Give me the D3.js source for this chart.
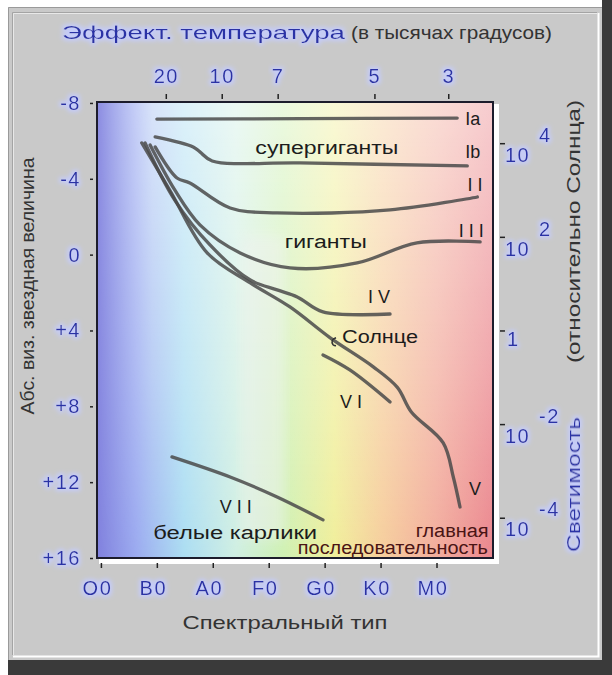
<!DOCTYPE html>
<html>
<head>
<meta charset="utf-8">
<script src="https://cdn.jsdelivr.net/npm/d3@7"></script>
<style>
  body { margin: 0; background: #fff; }
  svg text { font-family: "Liberation Sans", Arial, sans-serif; }
</style>
</head>
<body>
<svg id="hr" width="612" height="675">
  <defs></defs>
  <g id="frame"></g>
  <g id="plot"></g>
  <g id="axes"></g>
  <g id="titles"></g>
</svg>
<script>
// --- data ---
const spectralTypes = ['O0', 'B0', 'A0', 'F0', 'G0', 'K0', 'M0'];
const magTicks = [-8, -4, 0, 4, 8, 12, 16];
const tempTicks = [20, 10, 7, 5, 3];
// where each temperature tick sits on the spectral-type axis
const tempAt = [1.16, 2.16, 3.16, 4.89, 6.21];
const lumExp = [4, 2, 0, -2, -4];

// luminosity classes: [spectral position, abs. magnitude]
const classIa = [[1.0, -7.15], [3.6, -7.17], [6.37, -7.2]];
const classIb = [[0.97, -6.21], [1.65, -5.68], [1.77, -5.42], [1.99, -4.94], [3.56, -4.84], [6.55, -4.68]];
const classII = [[0.97, -5.68], [1.36, -4.04], [1.59, -3.78], [2.31, -2.46], [3.15, -2.2], [5.17, -2.36], [6.73, -3.04]];
const classIII = [[0.88, -5.78], [1.32, -3.41], [1.77, -1.57], [2.49, -0.09], [3.38, 0.7], [4.58, 0.44], [5.65, -0.62], [6.78, -0.67]];
const classIV = [[0.79, -5.89], [1.32, -2.88], [1.95, -0.51], [2.67, 1.34], [3.15, 1.86], [3.51, 2.23], [3.97, 3.02], [5.17, 3.13]];
const classV = [[0.73, -5.89], [1.23, -3.41], [1.9, -0.09], [2.67, 1.49], [3.38, 2.76], [4.1, 4.39], [4.87, 5.92], [5.3, 7.0], [5.55, 8.3], [6.12, 9.93], [6.3, 11.73], [6.42, 13.31]];
const classVI = [[3.97, 5.29], [4.45, 6.08], [5.17, 7.77]];
const classVII = [[1.27, 10.67], [2.31, 11.73], [3.15, 12.78], [3.97, 13.99]];
const sun = [4.15, 4.65];

const curves = [classIa, classIb, classII, classIII, classIV, classV, classVI, classVII];

// text in the plot: [text, spectral position, magnitude]
const classNames = [['Ia', 6.65, -7.16], ['Ib', 6.65, -5.42], ['I I', 6.69, -3.68], ['I I I', 6.62, -1.25],
  ['I V', 4.97, 2.23], ['V', 6.69, 12.36], ['V I', 4.47, 7.77], ['V I I', 2.41, 13.26]];
const regionNames = [['супергиганты', 4.04, -5.63], ['гиганты', 4.02, -0.67], ['Солнце', 4.99, 4.34],
  ['белые карлики', 2.40, 14.64]];
const mainSeqName = [['главная', 6.28, 14.53], ['последовательность', 5.22, 15.47]];

// --- setup ---
const svg = d3.select('svg#hr');
const size = { width: +svg.attr('width'), height: +svg.attr('height') };
const pad = { top: 102, right: 119, bottom: 117, left: 97 };
const width = size.width - pad.left - pad.right;
const height = size.height - pad.top - pad.bottom;

const x = d3.scaleLinear().domain([-0.07, 7.01]).range([0, width]);
const y = d3.scaleLinear().domain([-8.05, 16]).range([0, height]);
const yL = d3.scaleLinear().domain([4.88, -4.86]).range([0, height]);

const blue = '#2b33a6';
const ink = '#333';

const defs = svg.select('defs');
const plot = svg.select('g#plot').attr('transform', `translate(${pad.left}, ${pad.top})`);
const axes = svg.select('g#axes').attr('transform', `translate(${pad.left}, ${pad.top})`);

setupDefs();
drawFrame();
drawPlot();
drawAxes();
drawTitles();

function setupDefs() {
  // spectrum colours from hot to cool
  const spec = defs.append('linearGradient').attr('id', 'spectrum');
  [[0, '#8080de'], [0.1, '#98a8f0'], [0.22, '#a8dcf2'], [0.35, '#cdeee2'], [0.47, '#cdf0b0'],
   [0.6, '#f0ee96'], [0.72, '#f6cc98'], [0.86, '#f2a898'], [1, '#ea8088']]
    .forEach(s => spec.append('stop').attr('offset', s[0]).attr('stop-color', s[1]));

  // paler towards the top
  const fade = defs.append('linearGradient').attr('id', 'fade')
    .attr('x1', 0).attr('x2', 0).attr('y1', 0).attr('y2', 1);
  fade.append('stop').attr('offset', 0).attr('stop-color', '#fff').attr('stop-opacity', 0.6);
  fade.append('stop').attr('offset', 0.6).attr('stop-color', '#fff').attr('stop-opacity', 0.3);
  fade.append('stop').attr('offset', 1).attr('stop-color', '#fff').attr('stop-opacity', 0.05);

  // the violet edge on the left keeps its colour
  const side = defs.append('linearGradient').attr('id', 'side');
  side.append('stop').attr('offset', 0).attr('stop-color', '#fff').attr('stop-opacity', 0.15);
  side.append('stop').attr('offset', 0.14).attr('stop-color', '#fff').attr('stop-opacity', 1);
  side.append('stop').attr('offset', 1).attr('stop-color', '#fff').attr('stop-opacity', 1);
  defs.append('mask').attr('id', 'sideMask').attr('maskContentUnits', 'objectBoundingBox')
    .append('rect').attr('width', 1).attr('height', 1).attr('fill', 'url(#side)');

  // soft light-blue glow behind blue labels
  const glow = defs.append('filter').attr('id', 'glow')
    .attr('x', '-30%').attr('y', '-30%').attr('width', '160%').attr('height', '160%');
  glow.append('feMorphology').attr('in', 'SourceAlpha').attr('operator', 'dilate').attr('radius', 1.5).attr('result', 'd');
  glow.append('feGaussianBlur').attr('in', 'd').attr('stdDeviation', 2).attr('result', 'b');
  glow.append('feFlood').attr('flood-color', '#c4ccff').attr('flood-opacity', 0.9);
  glow.append('feComposite').attr('in2', 'b').attr('operator', 'in').attr('result', 'g');
  const merge = glow.append('feMerge');
  merge.append('feMergeNode').attr('in', 'g');
  merge.append('feMergeNode').attr('in', 'SourceGraphic');

  defs.append('filter').attr('id', 'soft')
    .append('feGaussianBlur').attr('stdDeviation', 6);
}

function drawFrame() {
  const f = svg.select('g#frame');
  f.append('rect').attr('x', 602).attr('y', 0).attr('width', 10).attr('height', 675).attr('fill', '#3a3a3a');
  f.append('rect').attr('x', 8).attr('y', 660).attr('width', 604).attr('height', 15).attr('fill', '#3a3a3a');
  f.append('rect').attr('x', 8).attr('y', 7).attr('width', 594).attr('height', 653).attr('fill', '#c9c9c9');
  f.append('path').attr('d', 'M8.5,660V7.5H602').attr('fill', 'none').attr('stroke', '#9a9a9a');
  f.append('path').attr('d', 'M12.5,655V12.5H597').attr('fill', 'none').attr('stroke', '#a4a4a4');
  f.append('path').attr('d', 'M13.5,655V13.5H597').attr('fill', 'none').attr('stroke', '#e8e8e8');
  f.append('path').attr('d', 'M13,656.5H598.5V13').attr('fill', 'none').attr('stroke', '#fff').attr('stroke-width', 2);
}

function drawPlot() {
  // white bevel on the right and bottom of the plot box
  plot.append('rect').attr('x', 2).attr('y', 2).attr('width', width + 4).attr('height', height + 4).attr('fill', '#fff');
  plot.append('rect').attr('width', width).attr('height', height).attr('fill', 'url(#spectrum)');
  plot.append('rect').attr('width', width).attr('height', height).attr('fill', 'url(#fade)')
    .attr('mask', 'url(#sideMask)');
  // ghostly pale band in the middle
  plot.append('rect').attr('x', x(2.5)).attr('y', y(-1)).attr('width', x(3.3) - x(2.5)).attr('height', y(15) - y(-1))
    .attr('fill', '#f2f2f2').attr('opacity', 0.45).attr('filter', 'url(#soft)');
  plot.append('rect').attr('width', width).attr('height', height)
    .attr('fill', 'none').attr('stroke', '#1c1c2c').attr('stroke-width', 2);

  const line = d3.line().x(d => x(d[0])).y(d => y(d[1])).curve(d3.curveCatmullRom.alpha(0.5));

  plot.append('g').selectAll('path')
    .data(curves)
    .enter().append('path')
      .attr('d', line)
      .attr('fill', 'none')
      .attr('stroke', '#4a4a4a')
      .attr('stroke-opacity', 0.85)
      .attr('stroke-width', 3.3)
      .attr('stroke-linecap', 'round');

  // small hook marking the Sun
  plot.append('path')
    .attr('d', `M${x(sun[0]) + 3},${y(sun[1]) - 5} q-6,2 -3,7 q1,1 3,1`)
    .attr('fill', 'none').attr('stroke', '#333').attr('stroke-width', 1.5);

  const txt = plot.append('g').attr('font-size', 18).attr('fill', '#1c1c1c');
  txt.selectAll('text.cls')
    .data(classNames)
    .enter().append('text')
      .attr('class', 'cls')
      .attr('x', d => x(d[1])).attr('y', d => y(d[2]))
      .attr('dy', '0.36em')
      .attr('text-anchor', 'middle')
      .text(d => d[0]);

  const regionWidth = { 'супергиганты': 143, 'гиганты': 82, 'Солнце': 76, 'белые карлики': 164 };
  txt.selectAll('text.region')
    .data(regionNames)
    .enter().append('text')
      .attr('class', 'region')
      .attr('x', d => x(d[1])).attr('y', d => y(d[2]))
      .attr('dy', '0.36em')
      .attr('text-anchor', 'middle')
      .attr('textLength', d => regionWidth[d[0]])
      .attr('lengthAdjust', 'spacingAndGlyphs')
      .text(d => d[0]);

  const mainWidth = { 'главная': 73, 'последовательность': 190 };
  txt.selectAll('text.main')
    .data(mainSeqName)
    .enter().append('text')
      .attr('class', 'main')
      .attr('x', d => x(d[1])).attr('y', d => y(d[2]))
      .attr('dy', '0.36em')
      .attr('text-anchor', 'middle')
      .attr('fill', '#4a1414')
      .attr('textLength', d => mainWidth[d[0]])
      .attr('lengthAdjust', 'spacingAndGlyphs')
      .text(d => d[0]);
}

function styleAxis(g) {
  g.select('.domain').remove();
  g.selectAll('line').attr('stroke', '#222').attr('stroke-width', 1.5);
  g.selectAll('text')
    .attr('fill', blue)
    .attr('font-size', 20)
    .attr('letter-spacing', 1.5)
    .attr('filter', 'url(#glow)');
}

function drawAxes() {
  // left: absolute magnitude
  axes.append('g')
    .attr('transform', 'translate(-4, 0)')
    .call(d3.axisLeft(y).tickValues(magTicks).tickSize(3).tickPadding(9)
      .tickFormat(d => d > 0 ? '+' + d : d))
    .call(styleAxis);

  // bottom: spectral type
  const bottom = axes.append('g')
    .attr('transform', `translate(0, ${height + 5})`)
    .call(d3.axisBottom(x).tickValues(d3.range(spectralTypes.length)).tickSize(5)
      .tickFormat(i => spectralTypes[i]))
    .call(styleAxis);
  bottom.selectAll('text').attr('y', 25).attr('dy', '0.36em').attr('x', -4);

  // top: effective temperature
  const top = axes.append('g')
    .attr('transform', 'translate(0, -3)')
    .call(d3.axisTop(x).tickValues(tempAt).tickSize(5)
      .tickFormat((d, i) => tempTicks[i]))
    .call(styleAxis);
  top.selectAll('text').attr('y', -23).attr('dy', '0.36em');

  // right: luminosity in solar units
  const right = axes.append('g')
    .attr('transform', `translate(${width + 7}, 0)`)
    .call(d3.axisRight(yL).tickValues(lumExp).tickSize(5).tickFormat(''))
    .call(styleAxis);
  right.selectAll('.tick').each(function(e) {
    const t = d3.select(this);
    if (e === 0) {
      t.append('text').attr('x', 7).attr('y', 8).attr('dy', '0.36em').text('1');
    } else {
      t.append('text').attr('x', 5).attr('y', 11).attr('dy', '0.36em').text('10');
      t.append('text').attr('x', 39).attr('y', -9).attr('dy', '0.36em').text(e);
    }
  });
  right.selectAll('text')
    .attr('fill', blue).attr('font-size', 20).attr('letter-spacing', 1.5).attr('filter', 'url(#glow)');
}

function drawTitles() {
  const t = svg.select('g#titles').attr('font-size', 19);

  t.append('text').attr('x', 62).attr('y', 32).attr('dy', '0.36em')
    .attr('fill', blue).attr('textLength', 283).attr('lengthAdjust', 'spacingAndGlyphs')
    .attr('filter', 'url(#glow)')
    .text('Эффект. температура');
  t.append('text').attr('x', 351).attr('y', 32).attr('dy', '0.36em')
    .attr('fill', ink).attr('textLength', 201).attr('lengthAdjust', 'spacingAndGlyphs')
    .text('(в тысячах градусов)');

  t.append('text').attr('x', 285).attr('y', 622).attr('dy', '0.36em')
    .attr('text-anchor', 'middle').attr('fill', ink)
    .attr('textLength', 205).attr('lengthAdjust', 'spacingAndGlyphs')
    .text('Спектральный тип');

  t.append('text').attr('transform', 'translate(27, 286) rotate(-90)').attr('dy', '0.36em')
    .attr('text-anchor', 'middle').attr('fill', ink)
    .attr('textLength', 257).attr('lengthAdjust', 'spacingAndGlyphs')
    .text('Абс. виз. звездная величина');

  t.append('text').attr('transform', 'translate(573, 484.5) rotate(-90)').attr('dy', '0.36em')
    .attr('text-anchor', 'middle').attr('fill', blue)
    .attr('textLength', 135).attr('lengthAdjust', 'spacingAndGlyphs')
    .attr('filter', 'url(#glow)')
    .text('Светимость');
  t.append('text').attr('transform', 'translate(573, 231.5) rotate(-90)').attr('dy', '0.36em')
    .attr('text-anchor', 'middle').attr('fill', ink)
    .attr('textLength', 263).attr('lengthAdjust', 'spacingAndGlyphs')
    .text('(относительно Солнца)');
}
</script>
</body>
</html>
